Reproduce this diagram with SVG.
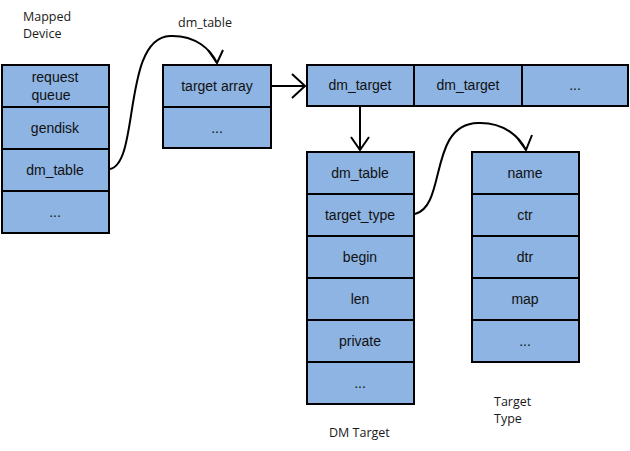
<svg xmlns="http://www.w3.org/2000/svg" width="630" height="451" viewBox="0 0 630 451">
<style>
.cell{fill:#8DB4E2;stroke:#000;stroke-width:2}
.t{font-family:"Liberation Sans",Arial,sans-serif;font-size:14px;fill:#111;text-anchor:middle}
.lbl{font-family:"Open Sans","Noto Sans",sans-serif;font-size:12.5px;fill:#1a1a1a}
.ln{fill:none;stroke:#000;stroke-width:2}
</style>
<rect width="630" height="451" fill="#fff"/>
<g id="mapped-device">
<rect class="cell" x="2" y="65" width="107" height="42"/>
<rect class="cell" x="2" y="107" width="107" height="42"/>
<rect class="cell" x="2" y="149" width="107" height="42"/>
<rect class="cell" x="2" y="191" width="107" height="42"/>
<text class="t" x="55" y="82">request</text>
<text class="t" x="51" y="100">queue</text>
<text class="t" x="55" y="133">gendisk</text>
<text class="t" x="55" y="175">dm_table</text>
<text class="t" x="55" y="217">...</text>
<text class="lbl" x="23" y="21">Mapped</text>
<text class="lbl" x="23" y="38">Device</text>
</g>
<g id="dm-table">
<rect class="cell" x="163" y="65" width="108" height="42"/>
<rect class="cell" x="163" y="107" width="108" height="41"/>
<text class="t" x="217" y="91">target array</text>
<text class="t" x="217" y="133">...</text>
<text class="lbl" x="178" y="27">dm_table</text>
</g>
<g id="target-array">
<rect class="cell" x="307" y="65" width="107" height="41"/>
<rect class="cell" x="414" y="65" width="108" height="41"/>
<rect class="cell" x="522" y="65" width="106" height="41"/>
<text class="t" x="360" y="90">dm_target</text>
<text class="t" x="468" y="90">dm_target</text>
<text class="t" x="575" y="90">...</text>
</g>
<g id="dm-target">
<rect class="cell" x="307" y="152" width="107" height="42"/>
<rect class="cell" x="307" y="194" width="107" height="42"/>
<rect class="cell" x="307" y="236" width="107" height="42"/>
<rect class="cell" x="307" y="278" width="107" height="42"/>
<rect class="cell" x="307" y="320" width="107" height="42"/>
<rect class="cell" x="307" y="362" width="107" height="42"/>
<text class="t" x="360" y="178">dm_table</text>
<text class="t" x="360" y="220">target_type</text>
<text class="t" x="360" y="262">begin</text>
<text class="t" x="360" y="304">len</text>
<text class="t" x="360" y="346">private</text>
<text class="t" x="360" y="388">...</text>
<text class="lbl" x="329" y="437">DM Target</text>
</g>
<g id="target-type">
<rect class="cell" x="472" y="152" width="107" height="42"/>
<rect class="cell" x="472" y="194" width="107" height="42"/>
<rect class="cell" x="472" y="236" width="107" height="42"/>
<rect class="cell" x="472" y="278" width="107" height="42"/>
<rect class="cell" x="472" y="320" width="107" height="42"/>
<text class="t" x="525" y="178">name</text>
<text class="t" x="525" y="220">ctr</text>
<text class="t" x="525" y="262">dtr</text>
<text class="t" x="525" y="304">map</text>
<text class="t" x="525" y="346">...</text>
<text class="lbl" x="494" y="406">Target</text>
<text class="lbl" x="494" y="423">Type</text>
</g>
<g id="connectors">
<path class="ln" d="M110,169 C140,163 122,38 170,36 C196,35 211,50 217,63"/>
<polyline class="ln" points="208,50 217,63 223,50"/>
<line class="ln" x1="271" y1="86" x2="305" y2="86"/>
<polyline class="ln" points="292,74 305,86 292,98"/>
<line class="ln" x1="360" y1="106" x2="360" y2="150"/>
<polyline class="ln" points="351,137 360,150 369,137"/>
<path class="ln" d="M415,214 C447,206 428,124 478,123 C505,122 520,138 526,150"/>
<polyline class="ln" points="518,139 526,150 532,135"/>
</g>
</svg>
